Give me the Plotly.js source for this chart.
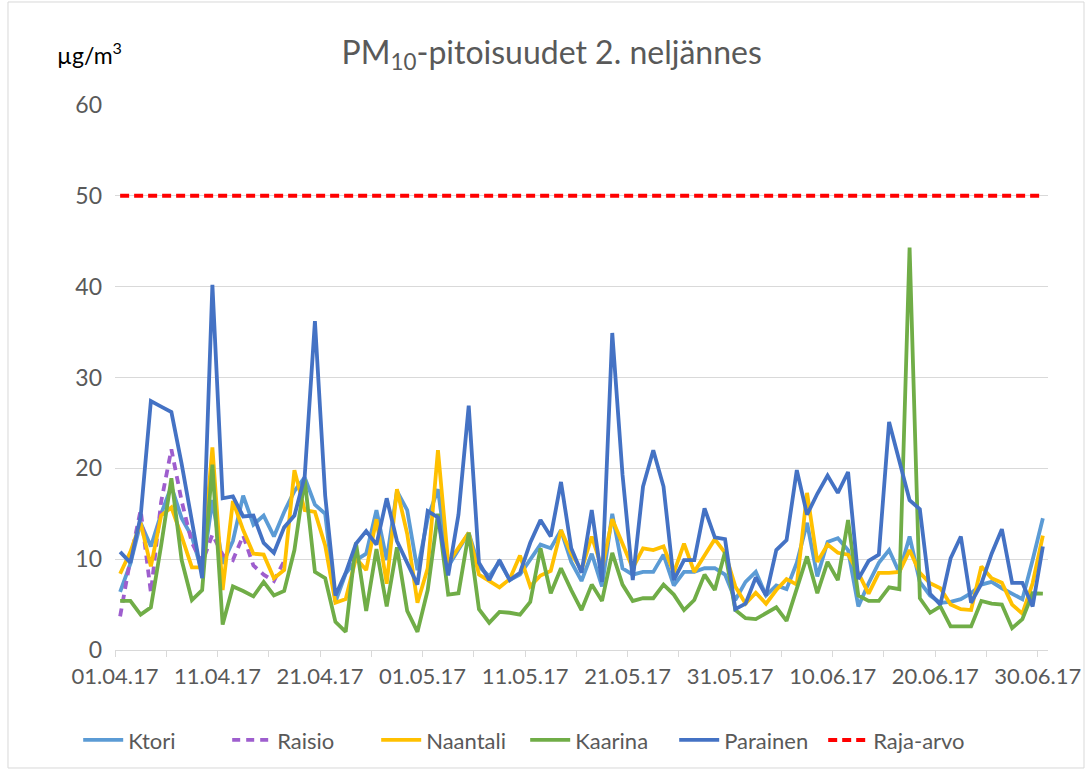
<!DOCTYPE html>
<html>
<head>
<meta charset="utf-8">
<script src="https://cdn.plot.ly/plotly-3.0.1.min.js"></script>
<style>
  html, body { margin: 0; padding: 0; background: #fff; }
  #chart { width: 1086px; height: 771px; }
</style>
</head>
<body>
<div id="chart"></div>
<script>
// Daily dates 01.04.2017 - 30.06.2017 (91 days)
const firstDay = '2017-04-01';
const dayCount = 91;

const ktori = [6.4,9.5,14.0,11.4,15.0,18.0,14.5,12.5,8.5,16.5,9.5,12.0,17.0,13.8,14.8,12.5,15.2,17.5,19.0,16.0,
  15.0,5.3,8.4,9.9,10.6,15.4,9.9,17.5,15.4,8.8,14.5,17.7,9.2,11.0,12.9,9.2,8.1,9.7,7.7,8.3,
  9.9,11.6,11.2,13.2,9.7,7.6,10.6,7.0,15.0,9.0,8.3,8.6,8.6,10.5,7.1,8.6,8.6,9.0,9.0,8.3,
  5.5,7.5,8.6,6.0,7.1,6.7,9.6,14.0,8.1,11.9,12.3,11.0,4.8,7.35,9.6,11.0,8.5,12.5,7.5,6.0,
  5.2,5.3,5.6,6.25,7.2,7.5,6.8,6.2,5.6,9.9,14.5];

const raisio = [3.7,10.0,15.4,6.3,16.3,22.1,16.4,11.8,9.6,12.7,10.5,9.9,12.6,9.3,8.3,7.6,9.8];

const naantali = [8.4,10.8,14.0,9.2,14.8,15.7,12.5,9.1,9.1,22.3,6.6,16.4,13.2,10.6,10.5,7.9,8.8,19.8,15.4,15.2,
  11.5,5.2,5.6,10.1,8.8,14.4,7.3,17.7,12.8,5.2,9.0,22.0,9.6,11.2,12.9,8.3,7.6,6.9,7.8,10.4,
  7.0,8.2,8.7,13.2,10.6,8.8,12.5,9.0,14.4,11.8,9.0,11.2,11.0,11.4,8.5,11.7,8.6,10.4,12.2,10.7,
  7.0,5.1,6.3,5.1,6.6,7.8,7.2,17.3,9.7,11.6,10.7,10.5,8.5,6.2,8.5,8.5,8.6,11.0,8.5,7.35,
  6.8,5.0,4.5,4.4,9.2,7.9,7.4,5.0,4.0,7.35,12.6];

const kaarina = [5.4,5.4,3.9,4.7,11.5,18.9,9.9,5.5,6.6,20.4,2.8,7.0,6.5,5.9,7.5,6.0,6.5,11.0,18.8,8.6,
  7.9,3.1,2.0,11.8,4.3,11.1,4.8,11.3,4.3,2.0,6.6,15.0,6.1,6.25,12.9,4.5,3.0,4.2,4.1,3.9,
  5.3,11.2,6.25,9.0,6.6,4.4,7.2,5.4,10.7,7.2,5.4,5.7,5.7,7.2,6.1,4.4,5.5,8.3,6.6,10.8,
  4.4,3.5,3.4,4.0,4.7,3.2,6.9,10.3,6.25,9.7,7.7,14.3,6.0,5.4,5.4,6.9,6.7,44.3,5.7,4.1,
  4.8,2.6,2.6,2.6,5.4,5.1,5.0,2.4,3.4,6.25,6.2];

const parainen = [10.8,9.6,14.7,27.4,26.8,26.2,20.5,14.0,7.9,40.2,16.7,16.9,14.7,14.8,11.8,10.7,13.5,14.8,19.1,36.2,
  17.0,6.0,8.5,11.7,13.1,11.6,16.7,12.0,9.7,7.2,15.3,14.6,8.2,14.9,26.9,9.6,7.7,9.9,7.7,8.5,
  11.8,14.3,12.5,18.5,11.2,8.5,15.4,7.5,34.9,19.3,7.7,18.0,22.0,18.0,7.7,9.9,9.9,15.6,12.4,12.2,
  4.5,5.1,8.0,6.0,11.0,12.1,19.8,14.9,17.2,19.2,17.3,19.6,7.8,9.8,10.5,25.1,20.8,16.5,15.5,6.2,
  5.0,10.1,12.5,5.2,7.3,10.6,13.3,7.4,7.4,4.8,11.4];

const rajaArvo = 50;

const seriesNames = ['Ktori','Raisio','Naantali','Kaarina','Parainen','Raja-arvo'];
const seriesColors = ['#5B9BD5','#9E5ECE','#FFC000','#70AD47','#4472C4','#FF0000'];

const tickDates = ['2017-04-01','2017-04-11','2017-04-21','2017-05-01','2017-05-11','2017-05-21',
  '2017-05-31','2017-06-10','2017-06-20','2017-06-30'];
const tickLabels = ['01.04.17','11.04.17','21.04.17','01.05.17','11.05.17','21.05.17',
  '31.05.17','10.06.17','20.06.17','30.06.17'];
const minorTickDates = ['2017-04-06','2017-04-16','2017-04-26','2017-05-06','2017-05-16',
  '2017-05-26','2017-06-05','2017-06-15','2017-06-25'];

// build date categories (points at midday)
const dates = [];
(function(){
  const d0 = new Date(firstDay + 'T12:00:00Z');
  for (let i = 0; i < dayCount; i++) {
    const d = new Date(d0.getTime() + i * 86400000);
    dates.push(d.toISOString().slice(0,10) + ' 12:00');
  }
})();

const font = 'Lato, "Open Sans", sans-serif';
const grey = '#595959';

function tr(name, ys, color, dash, w) {
  return {
    type: 'scatter', mode: 'lines', name: name,
    x: dates.slice(0, ys.length), y: ys,
    line: {color: color, width: w || 3.8, dash: dash || 'solid'},
    hoverinfo: 'x+y+name'
  };
}

const data = [
  tr(seriesNames[0], ktori, seriesColors[0]),
  tr(seriesNames[1], raisio, seriesColors[1], '8px,6px'),
  tr(seriesNames[2], naantali, seriesColors[2]),
  tr(seriesNames[3], kaarina, seriesColors[3]),
  tr(seriesNames[4], parainen, seriesColors[4]),
  tr(seriesNames[5], dates.map(() => rajaArvo), seriesColors[5], '9px,5px', 4)
];

const layout = {
  width: 1086, height: 771,
  margin: {l: 115, r: 38, t: 105, b: 121},
  paper_bgcolor: '#fff', plot_bgcolor: '#fff',
  font: {family: font, color: grey, size: 23},
  title: {
    text: 'PM<sub>10</sub>-pitoisuudet 2. neljännes',
    font: {family: font, size: 32, color: grey},
    x: 0.508, xanchor: 'center', y: 0.932, yanchor: 'middle'
  },
  xaxis: {
    type: 'date',
    range: ['2017-04-01', '2017-07-01'],
    tickmode: 'array', tickvals: tickDates, ticktext: tickLabels,
    ticks: 'outside', ticklen: 6, tickcolor: '#d9d9d9', tickwidth: 1,
    ticklabelstandoff: 1,
    minor: {tickmode: 'array', tickvals: minorTickDates, ticks: 'outside', ticklen: 6,
            tickcolor: '#d9d9d9', tickwidth: 1, showgrid: false},
    showline: true, linecolor: '#d9d9d9', linewidth: 1,
    showgrid: false, zeroline: false,
    tickfont: {size: 22, color: grey, family: font}
  },
  yaxis: {
    range: [0, 60], dtick: 10, tick0: 0,
    showgrid: true, gridcolor: '#d9d9d9', gridwidth: 1,
    zeroline: false, showline: false, ticks: '',
    ticklabelstandoff: 12,
    tickfont: {size: 23, color: grey, family: font}
  },
  showlegend: true,
  legend: {
    orientation: 'h', xref: 'container', x: 0.072, xanchor: 'left',
    yref: 'container', y: 0.04, yanchor: 'middle',
    font: {size: 22, color: grey, family: font},
    entrywidth: 94, entrywidthmode: 'pixels',
    itemwidth: 40, tracegroupgap: 0
  },
  annotations: [{
    text: 'µg/m<sup>3</sup>', xref: 'paper', yref: 'paper',
    x: -0.064, y: 1.095, xanchor: 'left', yanchor: 'middle', showarrow: false,
    font: {size: 23, color: '#000', family: font}
  }],
  shapes: [{
    type: 'rect', xref: 'paper', yref: 'paper',
    x0: -0.1147, x1: 1.0386, y0: -0.2165, y1: 1.189,
    line: {color: '#d9d9d9', width: 1}, fillcolor: 'rgba(0,0,0,0)', layer: 'below'
  }]
};

Plotly.newPlot('chart', data, layout, {displayModeBar: false, staticPlot: true});
</script>
</body>
</html>
